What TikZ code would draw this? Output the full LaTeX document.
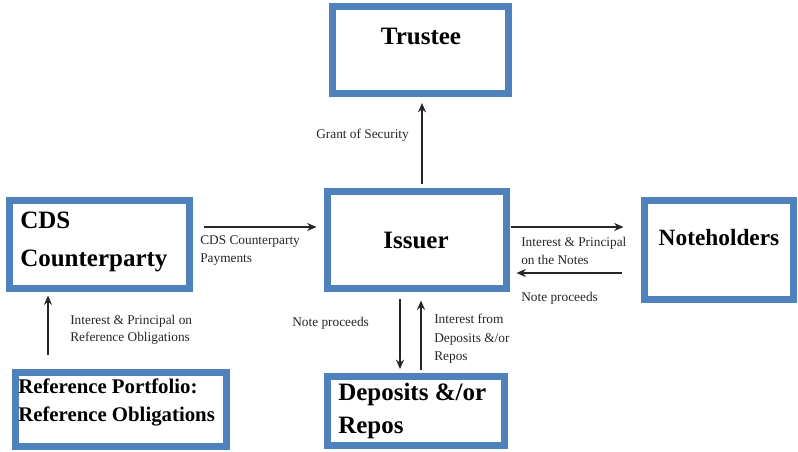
\documentclass[tikz,border=0pt]{standalone}
\usepackage{fontspec}
\setmainfont{Liberation Serif}
\usetikzlibrary{arrows.meta, positioning, calc}
\definecolor{boxblue}{HTML}{4F81BD}

\begin{document}
\begin{tikzpicture}[x=0.75pt, y=-0.75pt,
  blockbox/.style={draw=boxblue, line width=5.25pt, fill=white, inner sep=0pt},
  title/.style={font=\bfseries\fontsize{18.75}{29}\selectfont, inner sep=0pt, align=left},
  flowtext/.style={font=\fontsize{10}{14}\selectfont, inner sep=0pt, align=left, anchor=west, text=black!85},
  flow/.style={-{Stealth[length=7pt, width=6pt]}, line width=1.2pt, black!85}]

  \useasboundingbox (0,0) rectangle (798,452);

  % Boxes
  \node[blockbox, minimum width=132pt, minimum height=65.25pt] (trustee) at (420.5,50) {};
  \node[blockbox, minimum width=134.25pt, minimum height=72.75pt] (issuer) at (417,240) {};
  \node[blockbox, minimum width=135pt, minimum height=66pt] (cds) at (99.5,244.5) {};
  \node[blockbox, minimum width=111.75pt, minimum height=74.25pt] (noteholders) at (719,250) {};
  \node[blockbox, minimum width=132.75pt, minimum height=51.75pt] (deposits) at (416,411) {};
  \node[blockbox, minimum width=158.25pt, minimum height=55.5pt] (refport) at (121,409.5) {};

  % Box titles
  \node[title] (trusteetxt) at (421,36) {Trustee};
  \node[title] (issuertxt) at (416,240) {Issuer};
  \node[title, anchor=west] (cdstxt) at (20,242) {CDS\\Counterparty};
  \node[title, font=\bfseries\fontsize{17.5}{24}\selectfont] (noteholderstxt) at (719,238) {Noteholders};
  \node[title, anchor=west, font=\bfseries\fontsize{18.75}{24.75}\selectfont] (depositstxt) at (338,411) {Deposits \&/or\\Repos};
  \node[title, anchor=west, font=\bfseries\fontsize{15.6}{21}\selectfont] (refporttxt) at (18,402) {Reference Portfolio:\\Reference Obligations};

  % Flows
  \draw[flow] ($(issuer.north)+(5,-3.5)$) -- ($(trustee.south)+(1.5,6)$);
  \draw[flow] ($(cds.east)+(10.5,-17.5)$) -- ($(issuer.west)+(-7.5,-13)$);
  \draw[flow] ($(issuer.east)+(0.5,-13)$) -- ($(noteholders.west)+(-17.5,-23)$);
  \draw[flow] ($(noteholders.west)+(-19.5,23)$) -- ($(issuer.east)+(6.5,33)$);
  \draw[flow] ($(issuer.south)+(-17,6.5)$) -- ($(deposits.north)+(-16,-4)$);
  \draw[flow] ($(deposits.north)+(5,-3.5)$) -- ($(issuer.south)+(4,8.5)$);
  \draw[flow] ($(refport.north)+(-73,-14.5)$) -- ($(cds.south)+(-51.5,3.5)$);

  % Flow labels
  \node[flowtext] (grantlbl) at (316,135) {Grant of Security};
  \node[flowtext] (cdspaylbl) at (200,250.5) {CDS Counterparty\\Payments};
  \node[flowtext] (noteintlbl) at (521,251) {Interest \& Principal\\on the Notes};
  \node[flowtext] (noteproclbl) at (521,298) {Note proceeds};
  \node[flowtext] (depproclbl) at (292,323) {Note proceeds};
  \node[flowtext] (depintlbl) at (434,339) {Interest from\\Deposits \&/or\\Repos};
  \node[flowtext, font=\fontsize{10}{13}\selectfont] (refintlbl) at (70,330) {Interest \& Principal on\\Reference Obligations};
\end{tikzpicture}
\end{document}
